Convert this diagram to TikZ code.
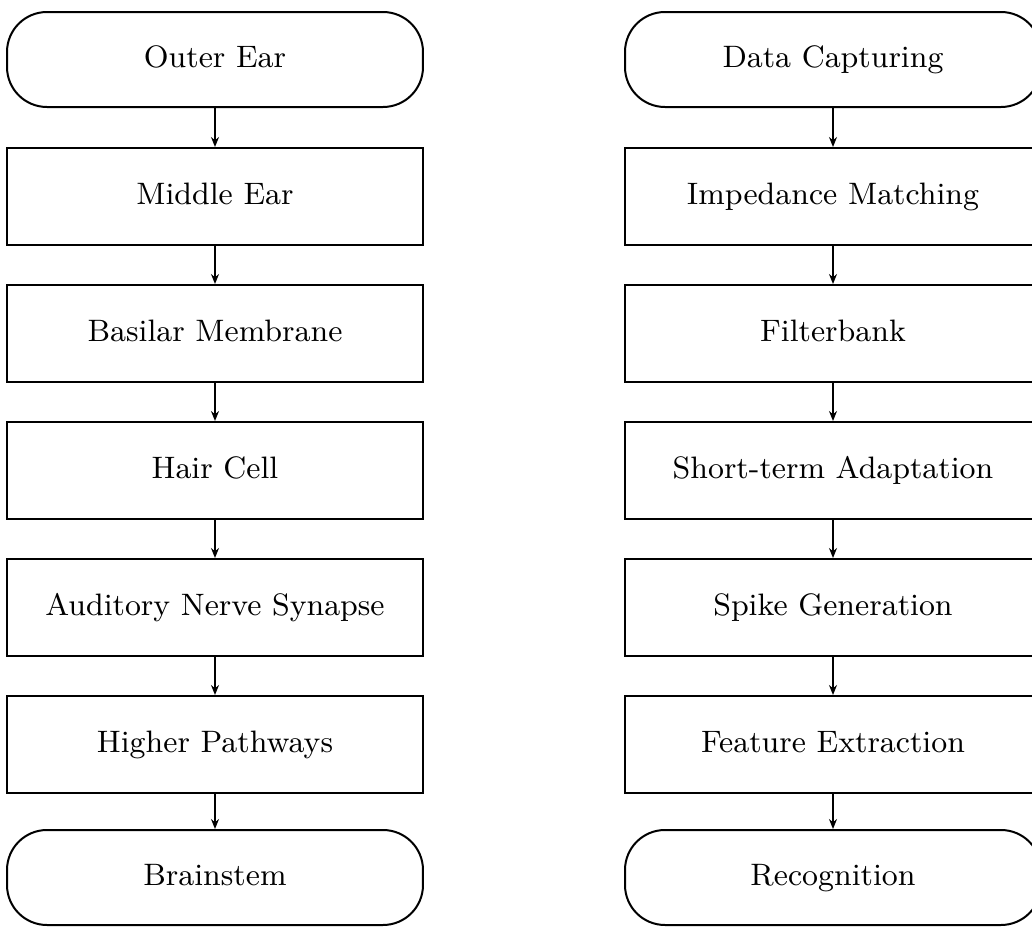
\documentclass[tikz,border=0pt]{standalone}
\usetikzlibrary{arrows.meta}
\begin{document}
\begin{tikzpicture}[x=0.3pt,y=-0.3pt,
  every node/.style={font=\fontsize{9.3}{11}\selectfont, inner sep=0pt, line width=0.6pt, text height=6.4pt, text depth=1.9pt},
  procbox/.style={draw, rectangle, minimum width=124.8pt, minimum height=29.1pt},
  termbox/.style={draw, rectangle, rounded corners=12pt, minimum width=124.8pt, minimum height=28.5pt},
  flow/.style={line width=0.45pt, -{Stealth[length=3pt,width=2.4pt]}}]
\useasboundingbox (0,0) rectangle (1032,931);
% left column
\node[termbox] (l1) at (215,59.5) {Outer Ear};
\node[procbox] (l2) at (215,196.5) {Middle Ear};
\node[procbox] (l3) at (215,333.5) {Basilar Membrane};
\node[procbox] (l4) at (215,470.5) {Hair Cell};
\node[procbox] (l5) at (215,607.5) {Auditory Nerve Synapse};
\node[procbox] (l6) at (215,744.5) {Higher Pathways};
\node[termbox] (l7) at (215,877.5) {Brainstem};
% right column
\node[termbox] (r1) at (833,59.5) {Data Capturing};
\node[procbox] (r2) at (833,196.5) {Impedance Matching};
\node[procbox] (r3) at (833,333.5) {Filterbank};
\node[procbox] (r4) at (833,470.5) {Short-term Adaptation};
\node[procbox] (r5) at (833,607.5) {Spike Generation};
\node[procbox] (r6) at (833,744.5) {Feature Extraction};
\node[termbox] (r7) at (833,877.5) {Recognition};
\foreach \c in {l,r}{
  \draw[flow] (\c1) -- (\c2);
  \draw[flow] (\c2) -- (\c3);
  \draw[flow] (\c3) -- (\c4);
  \draw[flow] (\c4) -- (\c5);
  \draw[flow] (\c5) -- (\c6);
  \draw[flow] (\c6) -- (\c7);
}
\end{tikzpicture}
\end{document}
